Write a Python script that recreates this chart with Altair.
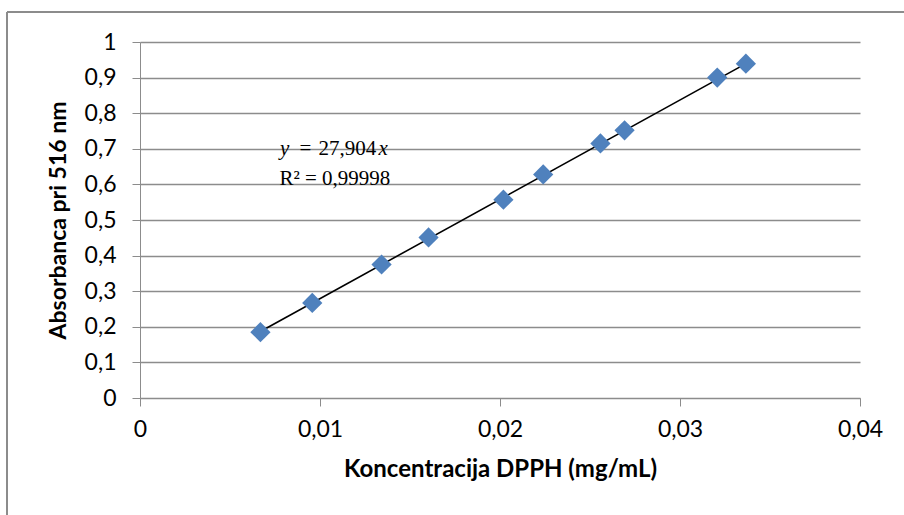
import altair as alt
import pandas as pd

# DPPH calibration: concentration (mg/mL) vs absorbance at 516 nm
conc = [0.00669, 0.00957, 0.01342, 0.01603, 0.02019, 0.02240, 0.02558, 0.02692, 0.03207, 0.03366]
absorb = [0.185, 0.267, 0.375, 0.451, 0.557, 0.628, 0.715, 0.752, 0.900, 0.939]
slope = 27.904
r_squared = 0.99998

x_ticks = [0, 0.01, 0.02, 0.03, 0.04]
y_ticks = [0, 0.1, 0.2, 0.3, 0.4, 0.5, 0.6, 0.7, 0.8, 0.9, 1.0]

pts = pd.DataFrame({"c": conc, "a": absorb})
fit = pd.DataFrame({"c": [min(conc), max(conc)]})
fit["a"] = slope * fit["c"]

comma = "replace(format(datum.value, '~g'), '.', ',')"
xs = alt.Scale(domain=[0, 0.04], nice=False, zero=True)
ys = alt.Scale(domain=[0, 1], nice=False)
GREY = "#8c8c8c"

x_axis = alt.Axis(
    values=x_ticks, tickCount=len(x_ticks), labelExpr=comma, grid=False, tickSize=8,
    tickColor=GREY, domainColor=GREY, labelPadding=12, labelFontSize=23, labelFont="Lato",
    labelColor="#000", labelFlush=False, labelOverlap=False,
    title="Koncentracija DPPH (mg/mL)", titleFont="Lato",
    titleFontSize=24, titleFontWeight="bold", titleColor="#000", titlePadding=16,
)
y_axis = alt.Axis(
    values=y_ticks, tickCount=len(y_ticks), labelExpr=comma, grid=True, gridColor=GREY,
    gridWidth=1.3, tickSize=8, tickColor=GREY, domainColor=GREY, labelPadding=16,
    labelFontSize=23, labelFont="Lato", labelColor="#000", labelOverlap=False,
    labelFlush=False, title="Absorbanca pri 516 nm", titleFont="Lato", titleFontSize=23,
    titleFontWeight="bold", titleColor="#000", titlePadding=14,
)

X = alt.X("c:Q", scale=xs, axis=x_axis)
Y = alt.Y("a:Q", scale=ys, axis=y_axis)

line = alt.Chart(fit).mark_line(color="#000", strokeWidth=1.6).encode(x=X, y=Y)
dots = alt.Chart(pts).mark_point(
    shape="diamond", filled=True, size=410, color="#4f81bd", opacity=1
).encode(x=X, y=Y)

# fitted equation, set in pieces so y and x can be italic
eq = pd.DataFrame({"c": [0.0108], "a": [0.683]})
slope_txt = str(slope).replace(".", ",")


def eq_piece(text, dx, align, italic=False):
    kw = {"fontStyle": "italic"} if italic else {}
    return alt.Chart(eq).mark_text(
        text=text, font="Liberation Serif", fontSize=21, align=align,
        baseline="alphabetic", dx=dx, color="#000", **kw,
    ).encode(x=X, y=Y)


eq_layers = [
    eq_piece("y", -45, "right", italic=True),
    eq_piece("=", -29, "center"),
    eq_piece(slope_txt, -16, "left"),
    eq_piece("x", 44, "left", italic=True),
]

r2 = pd.DataFrame({"c": [0.0108], "a": [0.597]})
r2_txt = alt.Chart(r2).mark_text(
    text=f"R² = {str(r_squared).replace('.', ',')}", font="Liberation Serif", fontSize=21,
    align="left", baseline="alphabetic", dx=-55, color="#000",
).encode(x=X, y=Y)

# chart-area frame
frame_top = alt.Chart(pts).mark_rule(color=GREY, strokeWidth=1.5).encode(
    x=alt.value(-133), x2=alt.value(800), y=alt.value(-30)
)
frame_left = alt.Chart(pts).mark_rule(color=GREY, strokeWidth=1.5).encode(
    x=alt.value(-133), y=alt.value(-30), y2=alt.value(500)
)

chart = alt.layer(frame_top, frame_left, line, dots, *eq_layers, r2_txt).properties(
    width=720, height=356,
    autosize=alt.AutoSizeParams(type="none"),
    padding={"left": 140, "top": 42, "right": 44, "bottom": 117},
    background="white",
).configure_view(stroke=None)

chart.save("out.html", embed_options={"renderer": "svg", "actions": False})
